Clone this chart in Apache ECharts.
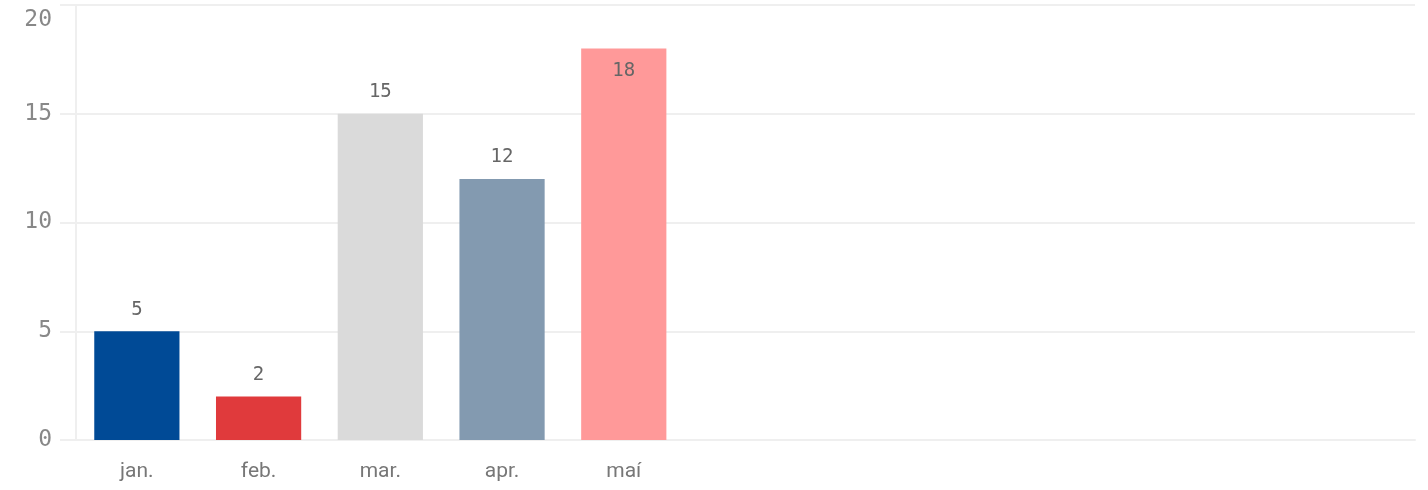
<!DOCTYPE html>
<html>
<head>
<meta charset="utf-8">
<script src="https://cdn.jsdelivr.net/npm/echarts@6/dist/echarts.min.js"></script>
<style>
  html, body { margin: 0; padding: 0; background: #fff; }
  #chart { width: 1428px; height: 490px; }
</style>
</head>
<body>
<div id="chart"></div>
<script>
// Monthly counts
const months = ['jan.', 'feb.', 'mar.', 'apr.', 'maí'];
const values = [5, 2, 15, 12, 18];
const barColors = ['#004a96', '#e03a3c', '#dadada', '#839ab0', '#ff9999'];
const yTicks = [0, 5, 10, 15, 20];

// The axis keeps room for eleven slots; only the first five have data.
const slotCount = 11;
const slots = months.concat(new Array(slotCount - months.length).fill(''));

const monoFont = '"DejaVu Sans Mono", monospace';
const yMax = yTicks[yTicks.length - 1];

const chart = echarts.init(document.getElementById('chart'), null, { renderer: 'canvas' });
chart.setOption({
  animation: false,
  grid: { left: 76, right: 13, top: 5, bottom: 50, containLabel: false, outerBoundsMode: 'none' },
  xAxis: {
    type: 'category',
    data: slots,
    axisLine: { show: true, lineStyle: { color: '#efefef', width: 2 } },
    axisTick: { show: false },
    axisLabel: { color: '#777', fontSize: 21, fontFamily: 'Roboto, sans-serif', margin: 21 },
    splitLine: { show: false }
  },
  yAxis: {
    type: 'value',
    min: yTicks[0],
    max: yMax,
    interval: yTicks[1] - yTicks[0],
    axisLine: { show: true, lineStyle: { color: '#efefef', width: 2 } },
    axisTick: { show: true, length: 16, lineStyle: { color: '#efefef', width: 2 } },
    axisLabel: {
      color: '#888',
      fontSize: 23,
      fontFamily: monoFont,
      margin: 24,
      // the top label hangs below its gridline so it stays inside the canvas
      formatter: (v) => (v === yMax ? '{top|' + v + '}' : String(v)),
      rich: {
        top: { color: '#888', fontSize: 23, fontFamily: monoFont, padding: [30, 0, 0, 0] }
      }
    },
    splitLine: { show: true, lineStyle: { color: '#efefef', width: 2 } }
  },
  series: [{
    type: 'bar',
    barWidth: '70%',
    data: values.map((v, i) => {
      const item = { value: v, itemStyle: { color: barColors[i] } };
      if (v === Math.max(...values)) {
        item.label = { position: 'insideTop', distance: 13 };
      }
      return item;
    }),
    label: {
      show: true,
      position: 'top',
      distance: 12,
      color: '#666',
      fontSize: 19,
      fontFamily: monoFont
    }
  }]
});
</script>
</body>
</html>
